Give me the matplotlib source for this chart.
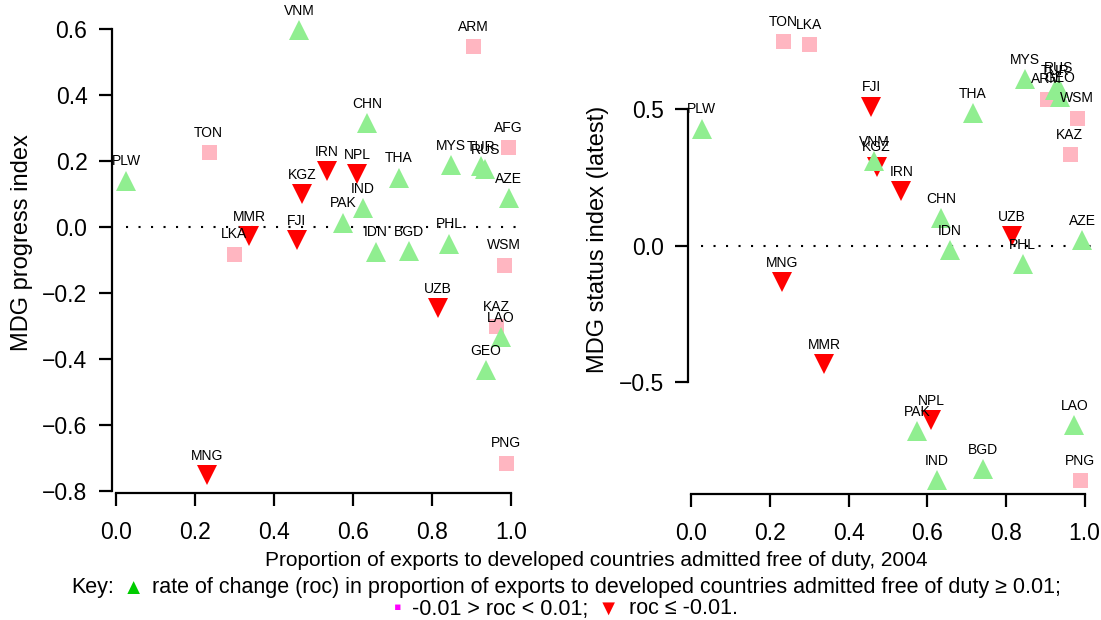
import matplotlib
matplotlib.use("Agg")
import matplotlib.pyplot as plt
from matplotlib.offsetbox import TextArea, HPacker, AnchoredOffsetbox

plt.rcParams['font.family'] = ['Liberation Sans', 'DejaVu Sans']

# rate-of-change group: "up" >= 0.01, "flat" in between, "down" <= -0.01
countries = ["AFG", "ARM", "AZE", "BGD", "CHN", "FJI", "GEO", "IDN", "IND", "IRN",
             "KAZ", "KGZ", "LAO", "LKA", "MMR", "MNG", "MYS", "NPL", "PAK", "PHL",
             "PLW", "PNG", "RUS", "THA", "TON", "TUR", "UZB", "VNM", "WSM"]
roc_group = ["flat", "flat", "up", "up", "up", "down", "up", "up", "up", "down",
             "flat", "down", "up", "flat", "down", "down", "up", "down", "up", "up",
             "up", "flat", "up", "up", "flat", "up", "down", "up", "flat"]
free_share = [0.992, 0.904, 0.994, 0.742, 0.635, 0.458, 0.937, 0.658, 0.625, 0.534,
              0.962, 0.471, 0.974, 0.298, 0.337, 0.230, 0.848, 0.610, 0.575, 0.843,
              0.026, 0.988, 0.935, 0.716, 0.234, 0.925, 0.815, 0.464, 0.981]
progress = [0.242, 0.548, 0.088, -0.072, 0.315, -0.040, -0.434, -0.075, 0.058, 0.170,
            -0.300, 0.100, -0.334, -0.081, -0.027, -0.750, 0.188, 0.160, 0.013, -0.050,
            0.140, -0.713, 0.175, 0.149, 0.227, 0.185, -0.245, 0.596, -0.114]
status = [None, 0.540, 0.020, -0.820, 0.100, 0.510, 0.545, -0.017, -0.860, 0.200,
          0.335, 0.290, -0.660, 0.740, -0.435, -0.134, 0.610, -0.640, -0.680, -0.068,
          0.430, -0.860, 0.580, 0.486, 0.750, 0.570, 0.035, 0.310, 0.470]

styles = {
    "flat": dict(marker="s", color="#FFB6C1", ms=10.8),
    "down": dict(marker="v", color="#FF0000", ms=15),
    "up": dict(marker="^", color="#90EE90", ms=15),
}

fig = plt.figure(figsize=(11.01, 6.2), dpi=100)
ax1 = fig.add_axes([0.1015, 0.2048, 0.377, 0.7777])
ax2 = fig.add_axes([0.6252, 0.2032, 0.3741, 0.7806])


def panel(ax, yvals, ylim, yticks, ybounds):
    ax.set_xlim(-0.011, 1.04)
    ax.set_ylim(*ylim)
    ax.hlines(0, 0.025, 1.03, colors="black", linestyles=(0, (1, 5)), linewidth=1.5)
    for grp in ["flat", "down", "up"]:
        st = styles[grp]
        xs = [x for x, g, y in zip(free_share, roc_group, yvals) if g == grp and y is not None]
        ys = [y for g, y in zip(roc_group, yvals) if g == grp and y is not None]
        names = [c for c, g, y in zip(countries, roc_group, yvals) if g == grp and y is not None]
        ax.plot(xs, ys, linestyle="none", marker=st["marker"], color=st["color"],
                markersize=st["ms"], markeredgewidth=0, clip_on=False)
        for n, x, y in zip(names, xs, ys):
            ax.annotate(n, (x, y), xytext=(0, 11), textcoords="offset points",
                        ha="center", va="baseline", fontsize=10)
    for s in ["top", "right"]:
        ax.spines[s].set_visible(False)
    ax.spines["left"].set_bounds(*ybounds)
    ax.spines["bottom"].set_bounds(0, 1)
    ax.spines["left"].set_linewidth(1.6)
    ax.spines["bottom"].set_linewidth(1.6)
    ax.set_xticks([0.0, 0.2, 0.4, 0.6, 0.8, 1.0])
    ax.set_xticklabels(["0.0", "0.2", "0.4", "0.6", "0.8", "1.0"])
    ax.set_yticks(yticks)
    ax.set_yticklabels([f"{t:.1f}".replace("-", "\u2212") for t in yticks])
    ax.tick_params(axis="both", labelsize=16.5, length=9.5, width=1.6)
    ax.tick_params(axis="x", pad=11)
    ax.tick_params(axis="y", pad=8)
    ax.patch.set_visible(False)


panel(ax1, progress, (-0.805, 0.654), [-0.8, -0.6, -0.4, -0.2, 0.0, 0.2, 0.4, 0.6], (-0.8, 0.6))
panel(ax2, status, (-0.912, 0.865), [-0.5, 0.0, 0.5], (-0.5, 0.5))
ax2.set_xlim(-0.008, 1.04)

fig.text(22 / 1101, 1 - 243 / 620, "MDG progress index", rotation=90,
         ha="center", va="center", fontsize=17)
fig.text(598 / 1101, 1 - 239 / 620, "MDG status index (latest)", rotation=90,
         ha="center", va="center", fontsize=17)
fig.text(596 / 1101, 1 - 561 / 620,
         "Proportion of exports to developed countries admitted free of duty, 2004",
         ha="center", va="center", fontsize=15)


def key_line(parts, ycenter, sep):
    boxes = [TextArea(s, textprops=dict(fontsize=fs, color=c)) for s, c, fs in parts]
    row = HPacker(children=boxes, align="baseline", pad=0, sep=sep)
    anch = AnchoredOffsetbox(loc="center", child=row, pad=0, borderpad=0, frameon=False,
                             bbox_to_anchor=(566 / 1101, 1 - ycenter / 620),
                             bbox_transform=fig.transFigure)
    fig.add_artist(anch)


key_line([("Key:", "black", 15.5), ("\u25b2", "#00CC00", 15.5),
          ("rate of change (roc) in proportion of exports to developed countries admitted free of duty \u2265 0.01;", "black", 15.5)],
         588, 6)
key_line([("\u25aa", "#FF00FF", 15.5), ("-0.01 > roc < 0.01;", "black", 15.5), ("\u25bc", "#FF0000", 15.5),
          ("roc \u2264 -0.01.", "black", 15.5)], 609, 7)

fig.savefig("out.png", dpi=100)
